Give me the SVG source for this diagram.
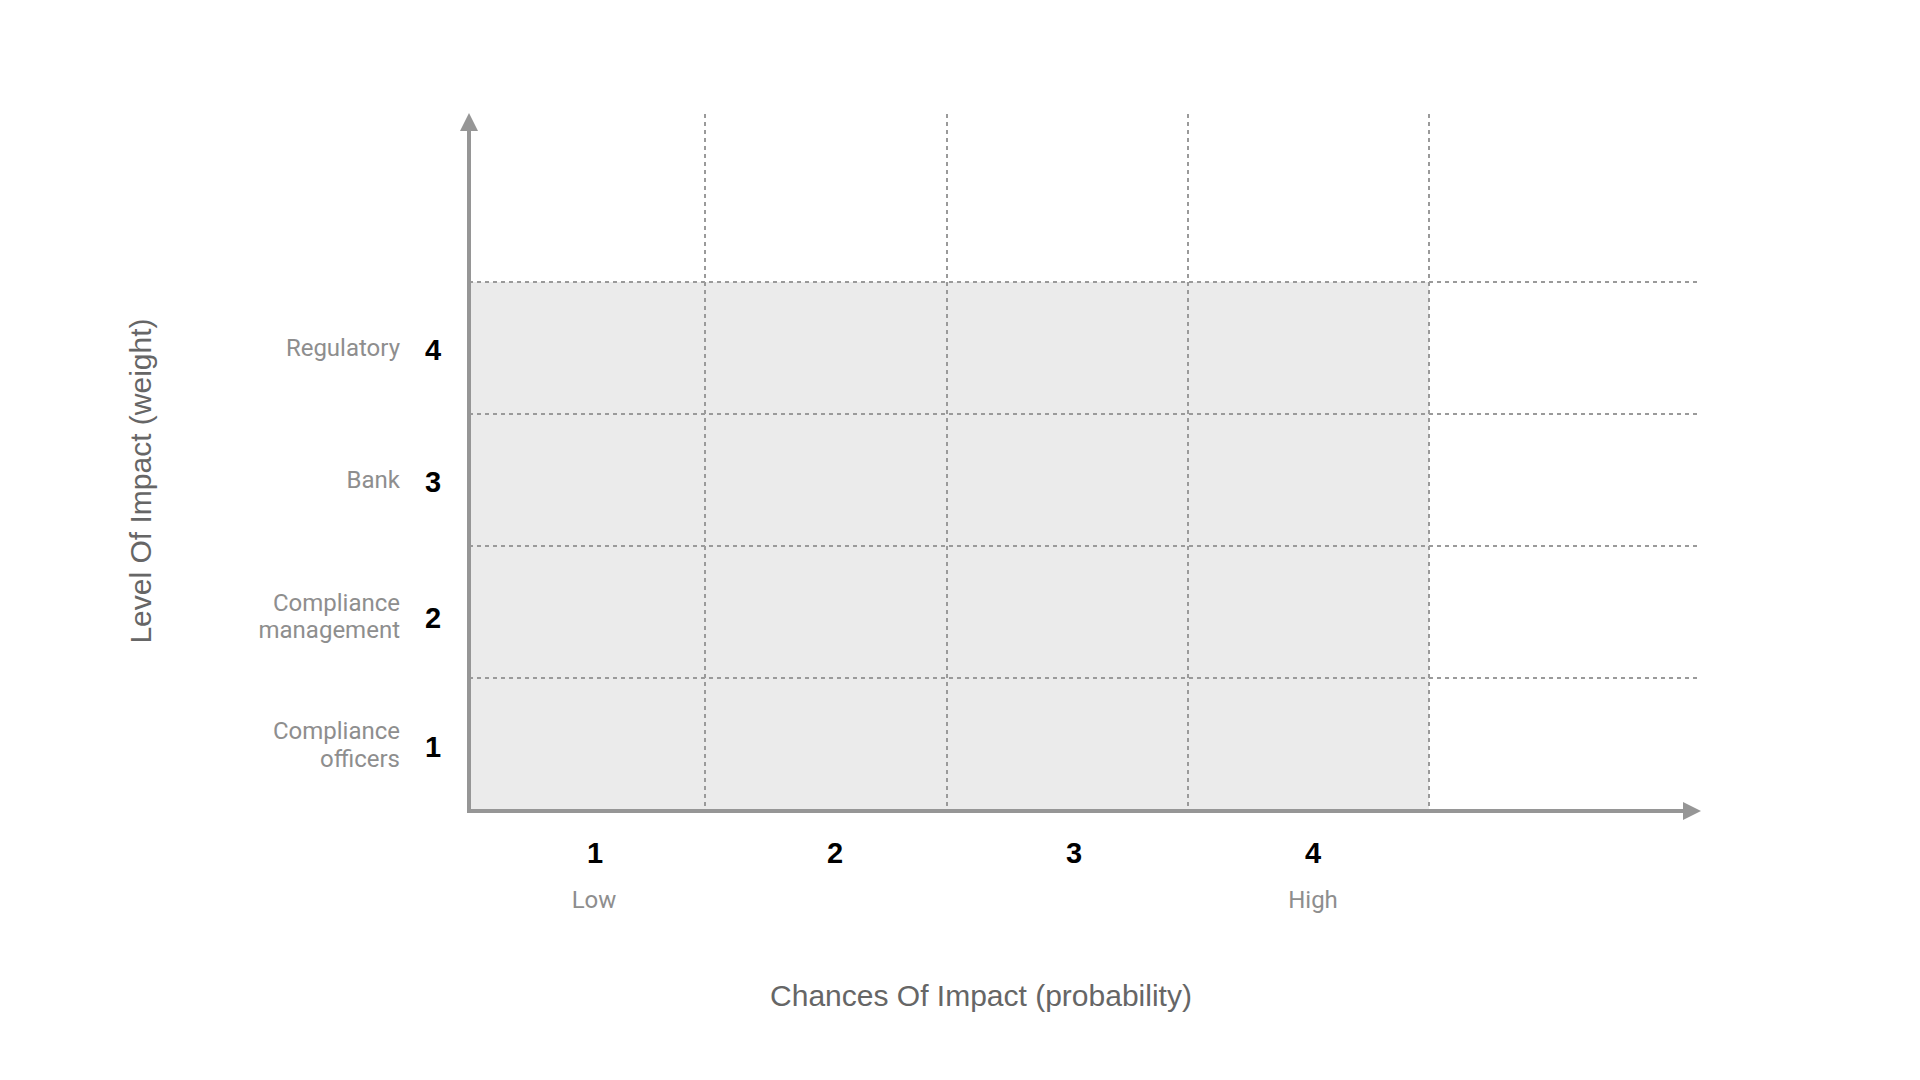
<svg xmlns="http://www.w3.org/2000/svg" width="1920" height="1080" viewBox="0 0 1920 1080">
  <style>
    .grid { stroke: #9a9a9a; stroke-width: 2; stroke-dasharray: 4 4; fill: none; }
    .axis { stroke: #969696; stroke-width: 4; fill: none; }
    .lbl { font-family: Roboto, "Liberation Sans", sans-serif; font-size: 24px; fill: #8e8e8e; }
    .num { font-family: "Liberation Sans", Arial, sans-serif; font-size: 29px; font-weight: bold; fill: #000; text-anchor: middle; }
    .title { font-family: "Liberation Sans", Arial, sans-serif; font-size: 30px; fill: #666; text-anchor: middle; }
  </style>
  <rect width="1920" height="1080" fill="#fff"/>
  <g id="area">
    <rect x="469" y="282" width="960" height="529" fill="#ebebeb"/>
  </g>
  <g id="grid">
    <line class="grid" x1="705" y1="114" x2="705" y2="811"/>
    <line class="grid" x1="947" y1="114" x2="947" y2="811"/>
    <line class="grid" x1="1188" y1="114" x2="1188" y2="811"/>
    <line class="grid" x1="1429" y1="114" x2="1429" y2="811"/>
    <line class="grid" x1="469" y1="282" x2="1700" y2="282"/>
    <line class="grid" x1="469" y1="414" x2="1700" y2="414"/>
    <line class="grid" x1="469" y1="546" x2="1700" y2="546"/>
    <line class="grid" x1="469" y1="678" x2="1700" y2="678"/>
  </g>
  <g id="axes">
    <line class="axis" x1="469" y1="813" x2="469" y2="128"/>
    <polygon points="469,113 460,131 478,131" fill="#969696"/>
    <line class="axis" x1="467" y1="811" x2="1686" y2="811"/>
    <polygon points="1701,811 1683,802 1683,820" fill="#969696"/>
  </g>
  <g id="y-labels">
    <text class="lbl" x="400" y="356" text-anchor="end">Regulatory</text>
    <text class="lbl" x="400" y="488" text-anchor="end">Bank</text>
    <text class="lbl" x="400" y="611" text-anchor="end">Compliance</text>
    <text class="lbl" x="400" y="638" text-anchor="end">management</text>
    <text class="lbl" x="400" y="739" text-anchor="end">Compliance</text>
    <text class="lbl" x="400" y="767" text-anchor="end">officers</text>
    <text class="num" x="433" y="360">4</text>
    <text class="num" x="433" y="492">3</text>
    <text class="num" x="433" y="628">2</text>
    <text class="num" x="433" y="757">1</text>
  </g>
  <g id="x-labels">
    <text class="num" x="595" y="863">1</text>
    <text class="num" x="835" y="863">2</text>
    <text class="num" x="1074" y="863">3</text>
    <text class="num" x="1313" y="863">4</text>
    <text class="lbl" x="594" y="908" text-anchor="middle">Low</text>
    <text class="lbl" x="1313" y="908" text-anchor="middle">High</text>
  </g>
  <g id="titles">
    <text class="title" x="981" y="1006">Chances Of Impact (probability)</text>
    <text class="title" transform="translate(151,481) rotate(-90)" x="0" y="0">Level Of Impact (weight)</text>
  </g>
</svg>
